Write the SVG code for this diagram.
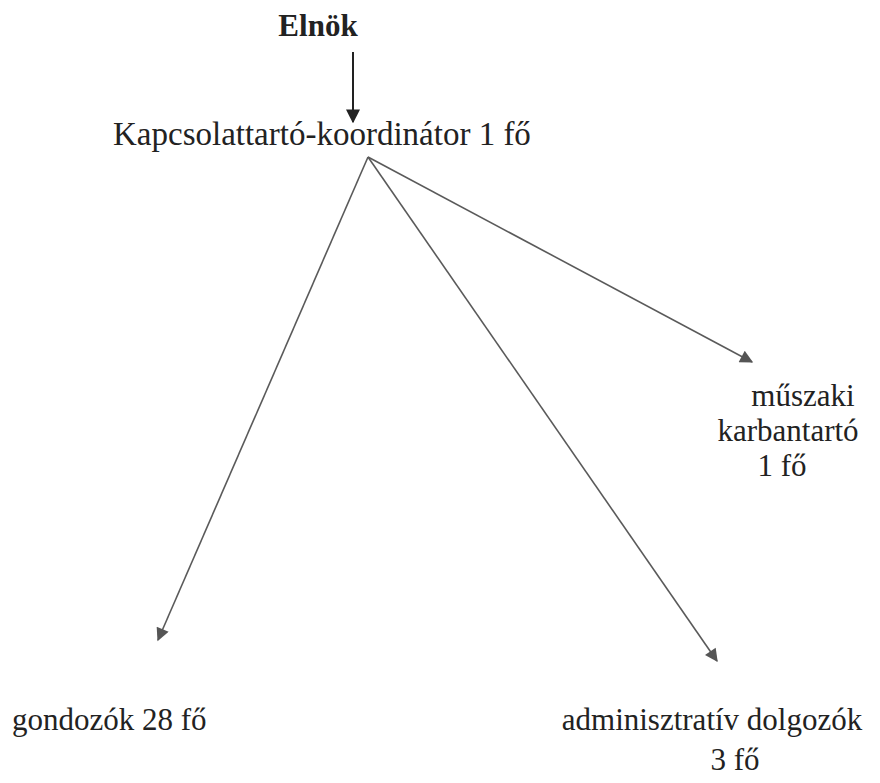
<svg xmlns="http://www.w3.org/2000/svg" width="880" height="783" viewBox="0 0 880 783">
<style>
text{font-family:"Liberation Serif","Times New Roman",serif;fill:#222;font-size:31px}
.b{font-weight:bold;font-size:31px}
.t{font-size:33px}
.c{stroke:#5a5a5a;stroke-width:1.6;fill:none}
.k{stroke:#222;stroke-width:2;fill:none}
</style>
<defs>
<marker id="ag" viewBox="0 0 10 10" refX="9" refY="5" markerWidth="15" markerHeight="13" markerUnits="userSpaceOnUse" orient="auto"><path d="M0,0 L10,5 L0,10 z" fill="#555"/></marker>
<marker id="ab" viewBox="0 0 10 10" refX="9" refY="5" markerWidth="14" markerHeight="14" markerUnits="userSpaceOnUse" orient="auto"><path d="M0,0 L10,5 L0,10 z" fill="#222"/></marker>
</defs>
<rect width="880" height="783" fill="#fff"/>
<g id="connectors">
<line class="k" x1="353" y1="52" x2="353" y2="122" marker-end="url(#ab)"/>
<line class="c" x1="368" y1="157" x2="158" y2="640" marker-end="url(#ag)"/>
<line class="c" x1="368" y1="157" x2="717" y2="661" marker-end="url(#ag)"/>
<line class="c" x1="368" y1="157" x2="752" y2="362" marker-end="url(#ag)"/>
</g>
<g id="elnok"><text class="b" x="318" y="36" text-anchor="middle">Elnök</text></g>
<g id="koordinator"><text class="t" x="113" y="145">Kapcsolattartó-koordinátor 1 fő</text></g>
<g id="muszaki">
<text x="803" y="406" text-anchor="middle">műszaki</text>
<text x="788" y="441" text-anchor="middle">karbantartó</text>
<text x="782" y="476" text-anchor="middle">1 fő</text>
</g>
<g id="gondozok"><text x="12" y="730">gondozók 28 fő</text></g>
<g id="admin">
<text x="712" y="730" text-anchor="middle">adminisztratív dolgozók</text>
<text x="735" y="770" text-anchor="middle">3 fő</text>
</g>
</svg>
